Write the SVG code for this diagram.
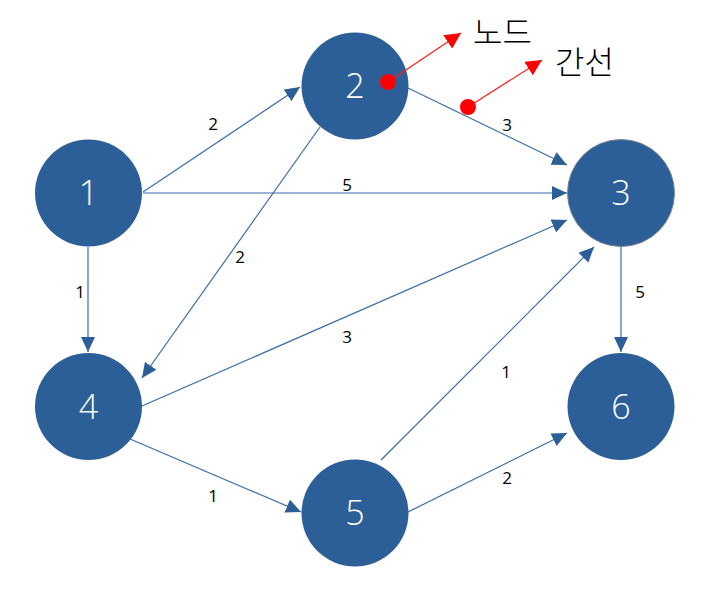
<svg xmlns="http://www.w3.org/2000/svg" width="711" height="592" viewBox="0 0 711 592">
<style>
.node{fill:#2C5F97}
.nt{font-family:"Open Sans","Noto Sans",sans-serif;font-size:34px;font-weight:300;fill:#ffffff;text-anchor:middle}
.edge{stroke:#3A6CA6;stroke-width:1.2;fill:none;marker-end:url(#ah)}
.el{font-family:"Open Sans","Noto Sans",sans-serif;font-size:17px;fill:#000;text-anchor:middle}
.red{stroke:#FF1A1A;stroke-width:1.2;fill:none;marker-end:url(#rh)}
.rt{font-family:"Noto Sans CJK KR","Noto Sans",sans-serif;font-size:32px;font-weight:300;fill:#000}
</style>
<defs>
<marker id="ah" markerUnits="userSpaceOnUse" markerWidth="16" markerHeight="14" refX="15" refY="7" orient="auto">
<path d="M0,0 L15,7 L0,14 z" fill="#2C5F97"/>
</marker>
<marker id="rh" markerUnits="userSpaceOnUse" markerWidth="17" markerHeight="16" refX="16" refY="8" orient="auto">
<path d="M0,0 L16,8 L0,16 z" fill="#FF0000"/>
</marker>
</defs>
<rect width="711" height="592" fill="#ffffff"/>
<g id="connectors">
<line class="edge" x1="143" y1="192" x2="300" y2="87"/>
<line class="edge" x1="143" y1="193" x2="567" y2="193"/>
<line class="edge" x1="88" y1="247" x2="88" y2="352"/>
<line class="edge" x1="320" y1="127" x2="142" y2="378"/>
<line class="edge" x1="408" y1="88" x2="567" y2="165"/>
<line class="edge" x1="142" y1="406" x2="567" y2="220"/>
<line class="edge" x1="381" y1="460" x2="594" y2="247"/>
<line class="edge" x1="130" y1="439" x2="301" y2="512"/>
<line class="edge" x1="408" y1="512" x2="567" y2="433"/>
<line class="edge" x1="621" y1="247" x2="621" y2="352"/>
<text class="el" x="213" y="130">2</text>
<text class="el" x="347" y="191">5</text>
<text class="el" x="80" y="298">1</text>
<text class="el" x="240" y="263">2</text>
<text class="el" x="507" y="131">3</text>
<text class="el" x="347" y="343">3</text>
<text class="el" x="506" y="378">1</text>
<text class="el" x="213" y="502">1</text>
<text class="el" x="507" y="484">2</text>
<text class="el" x="640" y="298">5</text>
</g>
<g id="node1"><circle class="node" cx="88.5" cy="193" r="53.5"/><text class="nt" x="88.5" y="205">1</text></g>
<g id="node2"><circle class="node" cx="355" cy="86" r="53.5"/><text class="nt" x="355" y="98">2</text></g>
<g id="node3"><circle class="node" cx="621" cy="193" r="53.5" stroke="#7A8796" stroke-width="1"/><text class="nt" x="621" y="205">3</text></g>
<g id="node4"><circle class="node" cx="88.5" cy="406.5" r="53.5"/><text class="nt" x="88.5" y="418.5">4</text></g>
<g id="node5"><circle class="node" cx="355" cy="513" r="53.5"/><text class="nt" x="355" y="525">5</text></g>
<g id="node6"><circle class="node" cx="621" cy="406.5" r="53.5"/><text class="nt" x="621" y="418.5">6</text></g>
<g id="annotations">
<line class="red" x1="388" y1="82" x2="461" y2="33"/>
<circle cx="388" cy="82" r="8" fill="#FF0000"/>
<line class="red" x1="468" y1="107" x2="542" y2="60"/>
<circle cx="468" cy="107" r="8" fill="#FF0000"/>
<text class="rt" x="473" y="44">노드</text>
<text class="rt" x="555" y="74">간선</text>
</g>
</svg>
